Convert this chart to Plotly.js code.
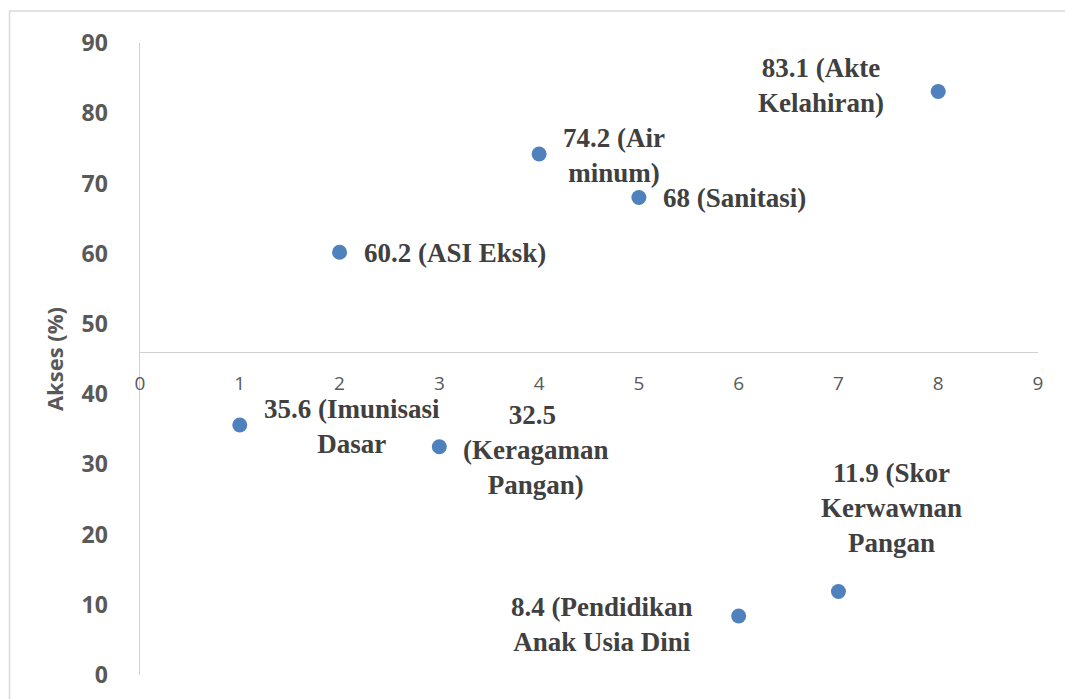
<!DOCTYPE html>
<html>
<head>
<meta charset="utf-8">
<script src="https://cdn.plot.ly/plotly-3.0.1.min.js"></script>
<style>
  html, body { margin: 0; padding: 0; background: #ffffff; }
  #chart { width: 1065px; height: 699px; }
</style>
</head>
<body>
<div id="chart"></div>
<script>
// Indicator index (x) and access percentage (y)
const indicatorIndex = [1, 2, 3, 4, 5, 6, 7, 8];
const aksesValues = [35.6, 60.2, 32.5, 74.2, 68, 8.4, 11.9, 83.1];
const indicatorNames = [
  '(Imunisasi<br>Dasar',
  '(ASI Eksk)',
  '<br>(Keragaman<br>Pangan)',
  '(Air<br>minum)',
  '(Sanitasi)',
  '(Pendidikan<br>Anak Usia Dini',
  '(Skor<br>Kerwawnan<br>Pangan',
  '(Akte<br>Kelahiran)'
];
const xTickValues = [0, 1, 2, 3, 4, 5, 6, 7, 8, 9];
const yTickValues = [0, 10, 20, 30, 40, 50, 60, 70, 80, 90];
const xAxisCrossing = 46;

// Label placement per point: anchor and pixel offsets from the marker
const labelPlacement = [
  { xanchor: 'left',   yanchor: 'middle', xshift: 22,  yshift: -1 },
  { xanchor: 'left',   yanchor: 'middle', xshift: 22,  yshift: -1 },
  { xanchor: 'left',   yanchor: 'middle', xshift: 22,  yshift: -3 },
  { xanchor: 'left',   yanchor: 'middle', xshift: 22,  yshift: -2 },
  { xanchor: 'left',   yanchor: 'middle', xshift: 22,  yshift: -1 },
  { xanchor: 'right',  yanchor: 'middle', xshift: -44, yshift: -8 },
  { xanchor: 'center', yanchor: 'middle', xshift: 53,  yshift: 83 },
  { xanchor: 'right',  yanchor: 'middle', xshift: -52, yshift: 6 }
];

const labelFont = {
  family: 'Liberation Serif, Times New Roman, serif',
  size: 27,
  weight: 'bold',
  color: '#404040'
};

const annotations = indicatorIndex.map((x, i) => Object.assign({
  x: x,
  y: aksesValues[i],
  xref: 'x',
  yref: 'y',
  text: '<b>' + aksesValues[i] + ' ' + indicatorNames[i] + '</b>',
  showarrow: false,
  align: 'center',
  font: labelFont
}, labelPlacement[i]));

const trace = {
  type: 'scatter',
  mode: 'markers',
  x: indicatorIndex,
  y: aksesValues,
  marker: { color: '#4f81bd', size: 15 },
  hoverinfo: 'x+y',
  cliponaxis: false
};

const layout = {
  width: 1065,
  height: 699,
  margin: { l: 140, r: 27, t: 42.5, b: 23.5 },
  paper_bgcolor: '#ffffff',
  plot_bgcolor: '#ffffff',
  showlegend: false,
  xaxis: {
    range: [0, 9],
    tickvals: xTickValues,
    anchor: 'free',
    position: xAxisCrossing / 90,
    showline: true,
    linecolor: '#d0d0d0',
    linewidth: 1.5,
    showgrid: false,
    zeroline: false,
    ticks: '',
    ticklabelstandoff: 14,
    tickfont: { family: 'Open Sans, sans-serif', size: 19, color: '#595959' }
  },
  yaxis: {
    range: [0, 90],
    tickvals: yTickValues,
    showline: true,
    linecolor: '#d0d0d0',
    linewidth: 1.5,
    showgrid: false,
    zeroline: false,
    ticks: '',
    ticklabelstandoff: 26,
    tickfont: { family: 'Open Sans, sans-serif', size: 23, weight: 'bold', color: '#595959' },
    title: {
      text: 'Akses (%)',
      standoff: 12,
      font: { family: 'Open Sans, sans-serif', size: 22, weight: 'bold', color: '#595959' }
    }
  },
  annotations: annotations,
  shapes: [
    {
      type: 'rect',
      xref: 'paper', yref: 'paper',
      x0: -0.1453, x1: 1.2, y0: -0.2, y1: 1.0507,
      line: { color: '#d9d9d9', width: 1.5 },
      fillcolor: 'rgba(0,0,0,0)',
      layer: 'below'
    }
  ]
};

Plotly.newPlot('chart', [trace], layout, { displayModeBar: false, staticPlot: true });
</script>
</body>
</html>
